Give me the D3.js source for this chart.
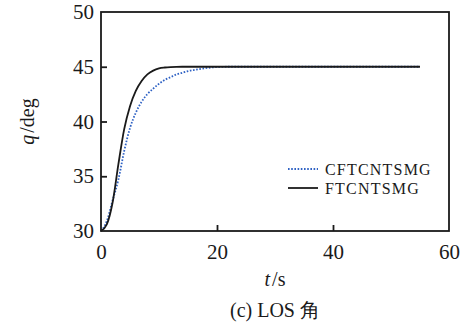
<!DOCTYPE html>
<html>
<head>
<meta charset="utf-8">
<script src="https://cdn.jsdelivr.net/npm/d3@7"></script>
<style>
  body { margin: 0; background: #fff; }
</style>
</head>
<body>
<figure id="los" style="margin:0"></figure>
<script>
// time (s)
const tA = [0, 1, 2, 3, 4, 5, 6, 7, 8, 9, 10, 11, 12, 13, 14, 16, 20, 30, 40, 55];
// FTCNTSMG (deg)
const ftc = [30, 30.6, 32.6, 36.1, 39.3, 41.4, 42.8, 43.7, 44.3, 44.65, 44.85, 44.93, 44.97, 44.99, 45, 45, 45, 45, 45, 45];

const tB = [0, 1, 2, 3, 4, 5, 6, 7, 8, 9, 10, 11, 12, 13, 14, 15, 16, 18, 20, 22, 30, 40, 55];
// CFTCNTSMG (deg)
const cftc = [30, 30.9, 32.8, 34.7, 37.3, 39.4, 40.8, 41.8, 42.5, 43.0, 43.45, 43.8, 44.05, 44.3, 44.45, 44.6, 44.7, 44.87, 44.97, 45, 45, 45, 45];

const xTicks = [0, 20, 40, 60];
const yTicks = [30, 35, 40, 45, 50];
const legendNames = ["CFTCNTSMG", "FTCNTSMG"];

const FONT = "'Liberation Serif', 'Times New Roman', serif";
const W = 466, H = 325;
const margin = { left: 101, top: 12, right: 17, bottom: 94 };
const width = W - margin.left - margin.right;
const height = H - margin.top - margin.bottom;

const svg = d3.select("figure#los")
  .append("svg")
  .attr("width", W)
  .attr("height", H)
  .style("font-family", FONT);

const g = svg.append("g")
  .attr("transform", "translate(" + margin.left + "," + margin.top + ")");

const x = d3.scaleLinear().domain([0, 60]).range([0, width]);
const y = d3.scaleLinear().domain([30, 50]).range([height, 0]);

// curves
const line = d3.line()
  .x(d => x(d[0]))
  .y(d => y(d[1]))
  .curve(d3.curveMonotoneX);

g.append("path")
  .datum(tB.map((t, i) => [t, cftc[i]]))
  .attr("fill", "none")
  .attr("stroke", "#2f62c4")
  .attr("stroke-width", 1.8)
  .attr("stroke-dasharray", "1.6,1.6")
  .attr("d", line);

g.append("path")
  .datum(tA.map((t, i) => [t, ftc[i]]))
  .attr("fill", "none")
  .attr("stroke", "#1a1a1a")
  .attr("stroke-width", 1.8)
  .attr("d", line);

// axes, ticks pointing inward
const xAxis = g.append("g")
  .attr("transform", "translate(0," + height + ")")
  .call(d3.axisBottom(x).tickValues(xTicks).tickSize(-6).tickPadding(12).tickSizeOuter(0));
const yAxis = g.append("g")
  .call(d3.axisLeft(y).tickValues(yTicks).tickSize(-6).tickPadding(7).tickSizeOuter(0));

[xAxis, yAxis].forEach(a => {
  a.attr("font-family", null).attr("font-size", null);
  a.select(".domain").remove();
  a.selectAll("line").attr("stroke", "#1a1a1a").attr("stroke-width", 1.8);
  a.selectAll("text")
    .style("font-family", FONT)
    .style("font-size", "21px")
    .attr("fill", "#1a1a1a");
});
// no tick marks at the corners
xAxis.selectAll(".tick").filter(d => d === 0 || d === 60).select("line").remove();
yAxis.selectAll(".tick").filter(d => d === 30 || d === 50).select("line").remove();
xAxis.selectAll("text").attr("dy", "0.75em");

// frame
g.append("rect")
  .attr("width", width)
  .attr("height", height)
  .attr("fill", "none")
  .attr("stroke", "#1a1a1a")
  .attr("stroke-width", 1.8);

// axis labels
const xl = svg.append("text")
  .attr("x", margin.left + width / 2)
  .attr("y", 286)
  .attr("text-anchor", "middle")
  .attr("fill", "#1a1a1a")
  .style("font-size", "20px");
xl.append("tspan").style("font-style", "italic").text("t");
xl.append("tspan").attr("dx", 2).text("/s");

const yl = svg.append("text")
  .attr("transform", "translate(34," + (margin.top + height / 2) + ") rotate(-90)")
  .attr("text-anchor", "middle")
  .attr("fill", "#1a1a1a")
  .style("font-size", "20px");
yl.append("tspan").style("font-style", "italic").text("q");
yl.append("tspan").attr("dx", 2).text("/deg");

svg.append("text")
  .attr("x", margin.left + width / 2)
  .attr("y", 317)
  .attr("text-anchor", "middle")
  .attr("fill", "#1a1a1a")
  .style("font-size", "20px")
  .text("(c) LOS 角");

// legend
const leg = svg.append("g").attr("transform", "translate(288,169)");
const styles = [
  { stroke: "#2f62c4", dash: "1.6,1.6" },
  { stroke: "#1a1a1a", dash: null }
];
legendNames.forEach((name, i) => {
  const row = leg.append("g").attr("transform", "translate(0," + (i * 19) + ")");
  row.append("line")
    .attr("x1", 0).attr("x2", 30)
    .attr("stroke", styles[i].stroke)
    .attr("stroke-width", 1.8)
    .attr("stroke-dasharray", styles[i].dash);
  row.append("text")
    .attr("x", 37)
    .attr("y", 6)
    .attr("fill", "#1a1a1a")
    .style("font-size", "16px")
    .style("letter-spacing", "1.2px")
    .text(name);
});
</script>
</body>
</html>
